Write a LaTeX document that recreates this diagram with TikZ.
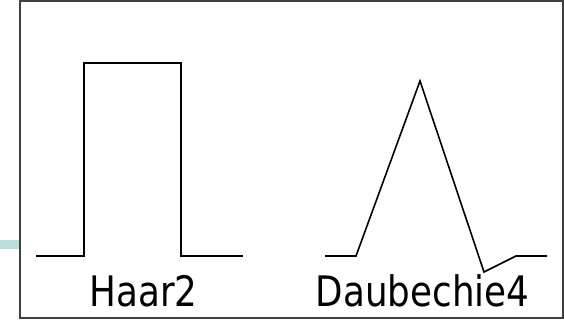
\documentclass[tikz,border=0pt]{standalone}
\usepackage{fontspec}
\newfontfamily\labelfont{DejaVu Sans}
\definecolor{tealbar}{RGB}{190,222,222}
\definecolor{framegray}{RGB}{64,64,64}
\begin{document}
\begin{tikzpicture}[x=1pt,y=-1pt,
  wave/.style={line width=1.6pt,black,line join=miter},
  framebox/.style={line width=1.6pt,draw=framegray},
  lbl/.style={font=\labelfont\fontsize{42}{48}\selectfont,inner sep=0pt,anchor=base,xscale=0.85}]
\useasboundingbox (0,0) rectangle (564,320);
\fill[tealbar] (0,240) rectangle (20,249);
\draw[framebox] (20,1) rectangle (563,318);
% Haar
\coordinate (h1) at (36,256);
\coordinate (h2) at (84,256);
\coordinate (h3) at (84,63);
\coordinate (h4) at (181,63);
\coordinate (h5) at (181,256);
\coordinate (h6) at (243,256);
\draw[wave] (h1) -- (h2) -- (h3) -- (h4) -- (h5) -- (h6);
% Daubechies
\coordinate (d1) at (325,256);
\coordinate (d2) at (356,256);
\coordinate (d3) at (420,81);
\coordinate (d4) at (484,272);
\coordinate (d5) at (516,256);
\coordinate (d6) at (547,256);
\draw[wave] (d1) -- (d2) -- (d3) -- (d4) -- (d5) -- (d6);
\node[lbl] (haar) at (143.5,306) {Haar2};
\node[lbl] (daub) at (422.5,306) {Daubechie4};
\end{tikzpicture}
\end{document}
